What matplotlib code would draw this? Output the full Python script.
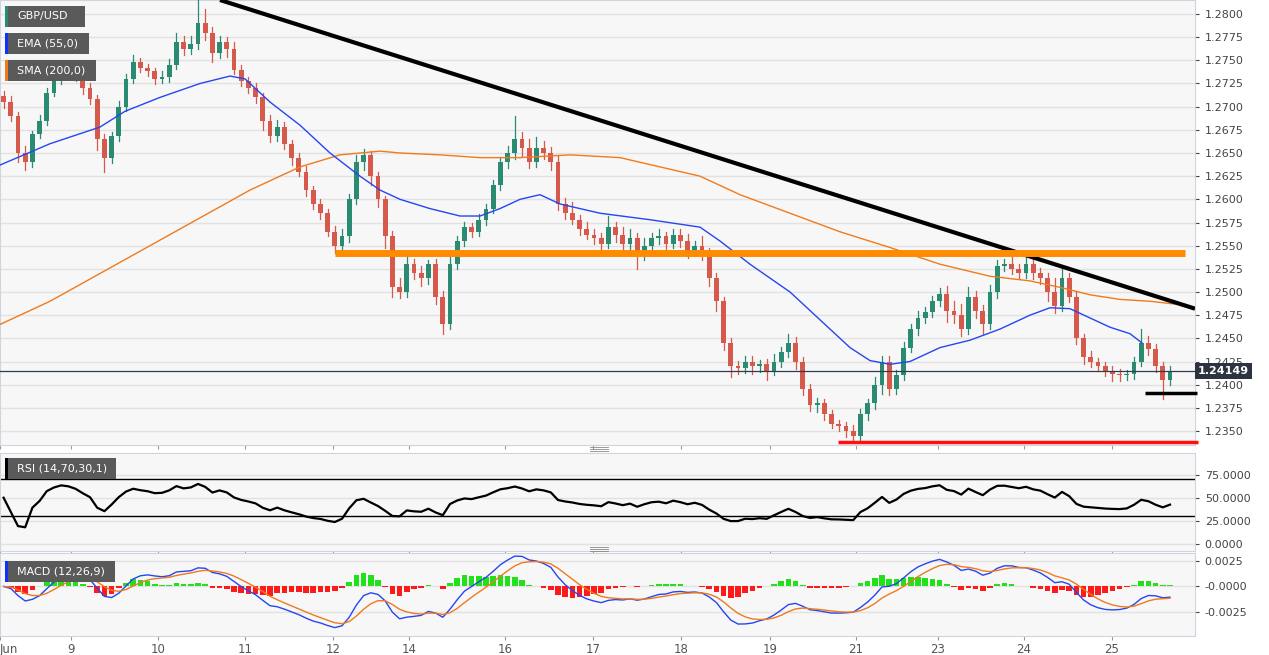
import matplotlib
matplotlib.use("Agg")
import matplotlib.pyplot as plt
import numpy as np
import pandas as pd
from matplotlib.patches import Rectangle

# ---------------- data ----------------
closes = [1.2705,1.2690,1.2650,1.2640,1.2670,1.2685,1.2715,1.2730,1.2740,1.2738,
          1.2732,1.2720,1.2708,1.2665,1.2645,1.2668,1.2700,1.2730,1.2748,1.2742,
          1.2738,1.2730,1.2732,1.2745,1.2770,1.2762,1.2768,1.2790,1.2780,1.2758,
          1.2770,1.2762,1.2740,1.2728,1.2720,1.2710,1.2685,1.2668,1.2678,1.2660,
          1.2645,1.2630,1.2610,1.2595,1.2585,1.2565,1.2550,1.2560,1.2600,1.2640,
          1.2648,1.2625,1.2600,1.2560,1.2505,1.2500,1.2530,1.2520,1.2515,1.2530,
          1.2495,1.2465,1.2530,1.2555,1.2570,1.2565,1.2578,1.2590,1.2615,1.2640,
          1.2650,1.2665,1.2655,1.2640,1.2655,1.2650,1.2640,1.2595,1.2585,1.2578,
          1.2568,1.2562,1.2558,1.2552,1.2570,1.2562,1.2552,1.2558,1.2540,1.2550,
          1.2558,1.2560,1.2552,1.2562,1.2555,1.2545,1.2550,1.2540,1.2515,1.2490,
          1.2445,1.2420,1.2418,1.2425,1.2420,1.2422,1.2415,1.2425,1.2435,1.2445,
          1.2425,1.2395,1.2378,1.2380,1.2368,1.2358,1.2355,1.2350,1.2345,1.2368,
          1.2380,1.2400,1.2425,1.2395,1.2410,1.2440,1.2460,1.2472,1.2478,1.2490,
          1.2498,1.2480,1.2475,1.2460,1.2495,1.2480,1.2465,1.2500,1.2528,1.2530,
          1.2525,1.2520,1.2530,1.2520,1.2515,1.2500,1.2485,1.2515,1.2495,1.2450,
          1.2430,1.2425,1.2420,1.2415,1.2412,1.2410,1.2412,1.2425,1.2445,1.2438,
          1.2420,1.2405,1.2415]
first_open = 1.2712
# wick sizes in pips (1 pip = 0.0001)
wick_up = [5,6,4,8,4,6,5,8,6,4, 5,4,6,5,6,5,6,5,8,5, 4,4,6,6,10,6,8,25,15,6,
           6,5,8,5,4,6,5,6,8,5, 4,5,6,4,5,5,6,8,6,8, 6,4,5,4,6,10,12,6,8,5,
           6,6,8,5,6,4,6,5,6,6, 8,25,8,10,12,8,6,8,6,12, 5,8,6,6,12,6,8,10,6,8,
           6,8,5,6,6,8,5,10,8,6, 5,5,6,6,6,5,6,8,6,10, 6,5,6,6,4,5,4,5,6,6,
           5,8,6,6,6,6,5,8,6,6, 6,8,10,12,10,6,6,8,6,6, 8,5,10,6,6,6,15,12,5,6,
           5,6,4,5,5,5,4,5,15,8, 6,4,5]
wick_dn = [6,5,10,8,5,4,5,4,6,5, 4,6,5,12,15,6,5,5,4,5, 5,6,4,5,4,6,5,6,8,10,
           5,8,5,6,5,6,10,6,5,6, 8,5,6,5,6,5,8,5,6,5, 8,10,8,12,10,6,5,6,8,6,
           8,10,5,5,5,6,5,6,5,5, 6,6,8,6,5,6,8,6,6,5, 6,5,6,8,5,8,6,6,15,6,
           5,6,6,5,6,8,6,6,8,10, 8,12,6,5,8,6,10,5,6,5, 8,6,6,8,6,5,5,6,6,5,
           6,6,10,6,5,5,5,6,5,5, 5,12,8,8,5,8,10,5,6,5, 6,6,5,6,6,10,8,5,6,6,
           8,6,5,6,8,6,5,6,5,6, 6,20,5]

ema_x = [0,50,100,125,160,200,230,245,270,300,330,360,380,400,430,460,480,500,520,540,
         560,600,650,700,720,750,790,820,850,870,890,910,940,970,1000,1030,1050,1070,1090,
         1110,1130,1142]
ema_y = [1.2637,1.2660,1.2678,1.2695,1.2710,1.2725,1.2733,1.2730,1.2705,1.2680,1.2650,1.2625,
         1.2610,1.2600,1.2590,1.2582,1.2582,1.2590,1.2600,1.2605,1.2595,1.2585,1.2578,1.2570,
         1.2555,1.2530,1.2500,1.2470,1.2440,1.2426,1.2422,1.2425,1.2440,1.2448,1.2460,1.2475,
         1.2483,1.2482,1.2472,1.2462,1.2455,1.2445]
sma_x = [0,50,100,150,200,250,300,340,380,400,440,480,520,570,620,660,700,740,790,840,890,
         940,990,1030,1060,1090,1120,1150,1175]
sma_y = [1.2465,1.2490,1.2520,1.2550,1.2580,1.2610,1.2635,1.2648,1.2652,1.2650,1.2648,1.2645,
         1.2645,1.2648,1.2645,1.2635,1.2625,1.2605,1.2585,1.2565,1.2548,1.2530,1.2517,1.2512,
         1.2505,1.2497,1.2492,1.2490,1.2487]

trend_x = [220, 1195]; trend_y = [1.28151, 1.2482]
res_x = [335, 1185]; res_y = 1.2542
low_x = [838, 1198]; low_y = 1.23381
sup_x = [1145, 1197]; sup_y = 1.23909
last_price = 1.24149

tick_pos = [0, 71, 158, 245, 333, 409, 505, 593, 681, 770, 856, 938, 1024, 1112]
tick_lab = ["Jun", "9", "10", "11", "12", "14", "16", "17", "18", "19", "21", "23", "24", "25"]

# ---------------- figure ----------------
W, H = 1269, 655
fig = plt.figure(figsize=(W/100, H/100), dpi=100)
fig.patch.set_facecolor("white")
R = 1195 / W

def ax_at(top, bottom):
    return fig.add_axes([0, 1 - bottom/H, R, (bottom - top)/H])

ax = ax_at(0, 445)
ax_r = ax_at(453, 551)
ax_m = ax_at(553, 636)
XL = (0, 1195)
for a in (ax, ax_r, ax_m):
    a.set_facecolor("#f7f7f7")
    a.set_xlim(*XL)
    a.yaxis.tick_right()
    a.tick_params(axis="y", length=3, labelsize=8, colors="#444444", pad=4)
    a.grid(axis="y", color="#e2e2e2", lw=1)
    a.set_axisbelow(True)
    for s in a.spines.values():
        s.set_color("#d0d4e0")
    a.set_xticks(tick_pos)
    a.tick_params(axis="x", length=3, color="#999999")
    a.set_xticklabels([])

# candles
n = len(closes)
xs = 7.2*np.arange(n) + 3.6
opens = [first_open] + closes[:-1]
for i in range(n):
    o, c = opens[i], closes[i]
    hi = max(o, c) + wick_up[i]*0.0001
    lo = min(o, c) - wick_dn[i]*0.0001
    col = "#2b8a72" if c >= o else "#d65a4b"
    ax.plot([xs[i], xs[i]], [lo, hi], color=col, lw=0.9, zorder=3)
    b = max(abs(c - o), 0.00008)
    ax.add_patch(Rectangle((xs[i]-2.4, min(o, c)), 4.8, b, color=col, zorder=4, lw=0))

ax.plot(sma_x, sma_y, color="#f07a1c", lw=1.0, zorder=5)
ax.plot(ema_x, ema_y, color="#2546f0", lw=1.0, zorder=5)
ax.plot(trend_x, trend_y, color="black", lw=3, zorder=6, solid_capstyle="butt")
ax.plot(res_x, [res_y]*2, color="#ff8c00", lw=5, zorder=6, solid_capstyle="butt")
ax.plot(low_x, [low_y]*2, color="#ff1010", lw=2.5, zorder=6, solid_capstyle="butt", clip_on=False)
ax.plot(sup_x, [sup_y]*2, color="black", lw=2.5, zorder=6, solid_capstyle="butt", clip_on=False)
ax.axhline(last_price, color="#2d3b55", lw=0.9, zorder=5)
ax.set_ylim(1.23349, 1.28151)
yt = np.arange(1.2350, 1.28001, 0.0025)
ax.set_yticks(yt)
ax.set_yticklabels([f"{v:.4f}" for v in yt])
ax.text(1198, last_price, f"{last_price:.5f}", transform=ax.transData, va="center", ha="left",
        fontsize=8, color="white", fontweight="bold", clip_on=False, zorder=10,
        bbox=dict(boxstyle="square,pad=0.25", fc="#2d3340", ec="none"))

# RSI (Wilder smoothing)
s = pd.Series(closes)
d = s.diff().fillna(0)
up = d.clip(lower=0).ewm(alpha=1/14, adjust=False).mean() + 0.00012
dn = (-d.clip(upper=0)).ewm(alpha=1/14, adjust=False).mean() + 0.00012
rsi = 100 - 100/(1 + up/dn)
ax_r.plot(xs, rsi, color="black", lw=1.6)
ax_r.axhline(70, color="black", lw=1)
ax_r.axhline(30, color="black", lw=1)
ax_r.set_ylim(-7.8, 98.5)
ax_r.set_yticks([0, 25, 50, 75])
ax_r.set_yticklabels(["0.0000", "25.0000", "50.0000", "75.0000"])

# MACD
e1 = s.ewm(span=6, adjust=False).mean()
e2 = s.ewm(span=13, adjust=False).mean()
macd = e1 - e2
sig = macd.ewm(span=5, adjust=False).mean()
hist = macd - sig
ax_m.bar(xs, hist, width=5.5, color=np.where(hist >= 0, "#22e01a", "#ff1a1a"), zorder=3)
ax_m.plot(xs, macd, color="#2546f0", lw=1, zorder=4)
ax_m.plot(xs, sig, color="#f07a1c", lw=1, zorder=4)
ax_m.set_ylim(-0.0049, 0.0033)
ax_m.set_yticks([-0.0025, 0, 0.0025])
ax_m.set_yticklabels(["-0.0025", "-0.0000", "0.0025"])

ax_m.set_xticklabels(tick_lab, fontsize=8.5, color="#555555")
ax_m.tick_params(axis="x", pad=2)
ax_m.get_xticklabels()[0].set_horizontalalignment("left")

# labels
def tag(x, y, w, h, text, barcol):
    fig.patches.append(Rectangle((x/W, 1-(y+h)/H), w/W, h/H, transform=fig.transFigure,
                                 fc="#5a5a5a", ec="none", zorder=20))
    fig.patches.append(Rectangle((x/W, 1-(y+h)/H), 3/W, h/H, transform=fig.transFigure,
                                 fc=barcol, ec="none", zorder=21))
    fig.text((x+12)/W, 1-(y+h/2)/H, text, color="white", fontsize=8, va="center", zorder=22)

tag(5, 6, 80, 21, "GBP/USD", "#2b8a72")
tag(5, 33, 84, 21, "EMA (55,0)", "#1030ff")
tag(5, 60, 91, 21, "SMA (200,0)", "#f07a1c")
tag(5, 458, 111, 21, "RSI (14,70,30,1)", "black")
tag(5, 561, 110, 21, "MACD (12,26,9)", "#1030ff")

for yy in (449, 549):
    for k in range(3):
        fig.lines.append(plt.Line2D([590/W, 608/W], [1-(yy-2+2*k)/H]*2, color="#888888", lw=0.6,
                                    transform=fig.transFigure))

fig.savefig("out.png", dpi=100)
